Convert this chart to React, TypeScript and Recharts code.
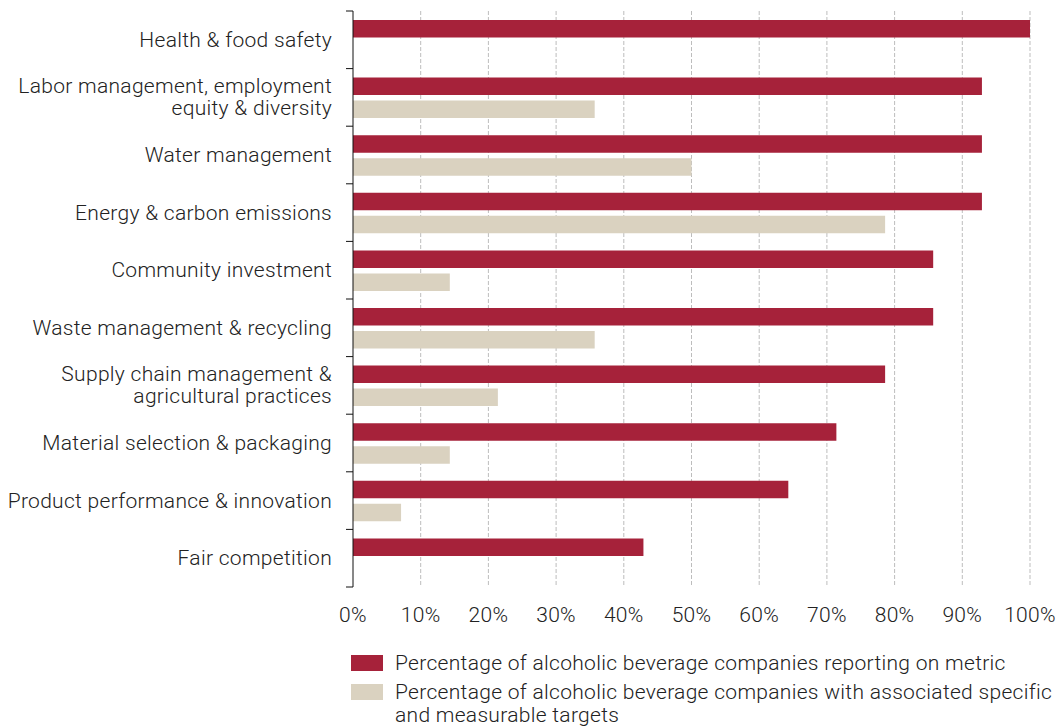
import React from 'react';
import { BarChart, Bar, XAxis, YAxis, CartesianGrid, Legend } from 'recharts';

const categories = [
  'Health & food safety',
  'Labor management, employment\nequity & diversity',
  'Water management',
  'Energy & carbon emissions',
  'Community investment',
  'Waste management & recycling',
  'Supply chain management &\nagricultural practices',
  'Material selection & packaging',
  'Product performance & innovation',
  'Fair competition',
];

const reporting = [100, 92.9, 92.9, 92.9, 85.7, 85.7, 78.6, 71.4, 64.3, 42.9];
const targets = [0, 35.7, 50, 78.6, 14.3, 35.7, 21.4, 14.3, 7.1, 0];

const xTicks = [0, 10, 20, 30, 40, 50, 60, 70, 80, 90, 100];

const seriesNames = [
  'Percentage of alcoholic beverage companies reporting on metric',
  'Percentage of alcoholic beverage companies with associated specific\nand measurable targets',
];

const RED = '#A6223A';
const BEIGE = '#DAD2C0';
const FONT = 'Roboto, "Liberation Sans", sans-serif';
const FS = 21;
const LS = 0.3;

const data = categories.map((name, i) => ({
  name,
  reporting: reporting[i],
  targets: targets[i],
}));

const HALF_BAND = 28.8;

const CategoryTick = (props: any) => {
  const { x, y, payload, index } = props;
  const lines = String(payload.value).split('\n');
  const axisX = x + 21;
  const lineH = 22;
  const startY = y - ((lines.length - 1) * lineH) / 2;
  return (
    <g>
      <line x1={axisX - 7} x2={axisX} y1={y - HALF_BAND} y2={y - HALF_BAND} stroke="#111" />
      {index === categories.length - 1 && (
        <line x1={axisX - 7} x2={axisX} y1={y + HALF_BAND} y2={y + HALF_BAND} stroke="#111" />
      )}
      <text
        x={x}
        y={startY}
        textAnchor="end"
        dominantBaseline="central"
        fontSize={FS}
        fontWeight={300}
        letterSpacing={LS}
        fill="#222"
        fontFamily={FONT}
      >
        {lines.map((l, k) => (
          <tspan key={k} x={x} dy={k === 0 ? 0 : lineH}>
            {l}
          </tspan>
        ))}
      </text>
    </g>
  );
};

const LegendBox = () => {
  const colors = [RED, BEIGE];
  return (
    <div
      style={{
        fontFamily: FONT,
        fontWeight: 300,
        fontSize: FS,
        letterSpacing: LS,
        color: '#222',
      }}
    >
      {seriesNames.map((s, i) => (
        <div key={i} style={{ display: 'flex', alignItems: 'flex-start', marginBottom: 6 }}>
          <span
            style={{
              display: 'inline-block',
              width: 32,
              height: 16,
              background: colors[i],
              marginTop: 3,
              marginRight: 12,
              flexShrink: 0,
            }}
          />
          <span style={{ lineHeight: '23px', whiteSpace: 'pre' }}>{s}</span>
        </div>
      ))}
    </div>
  );
};

export default function App() {
  return (
    <div style={{ position: 'absolute', left: 0, top: 0, background: '#fff' }}>
      <BarChart
        width={1058}
        height={726}
        data={data}
        layout="vertical"
        margin={{ top: 11, right: 28, bottom: 99, left: 0 }}
        barSize={17.5}
        barGap={5.5}
        style={{ overflow: 'visible' }}
      >
        <CartesianGrid
          horizontal={false}
          stroke="#bdbdbd"
          strokeDasharray="4 2"
          verticalCoordinatesGenerator={({ offset }: any) =>
            xTicks.slice(1).map((t) => offset.left + (offset.width * t) / 100)
          }
        />
        <XAxis
          type="number"
          domain={[0, 100]}
          ticks={xTicks}
          tickFormatter={(v: number) => `${v}%`}
          axisLine={false}
          tickLine={false}
          tickSize={0}
          tickMargin={20}
          height={40}
          interval={0}
          tick={{ fontSize: FS, fontWeight: 300, fill: '#222', fontFamily: FONT, letterSpacing: LS }}
        />
        <YAxis
          type="category"
          dataKey="name"
          width={353}
          axisLine={{ stroke: '#111' }}
          tickLine={false}
          tickSize={7}
          tickMargin={14}
          interval={0}
          tick={<CategoryTick />}
        />
        <Legend
          layout="vertical"
          align="center"
          verticalAlign="middle"
          content={<LegendBox />}
          wrapperStyle={{ left: 351, top: 652, width: 707 }}
        />
        <Bar dataKey="reporting" fill={RED} isAnimationActive={false} />
        <Bar dataKey="targets" fill={BEIGE} isAnimationActive={false} />
      </BarChart>
    </div>
  );
}
